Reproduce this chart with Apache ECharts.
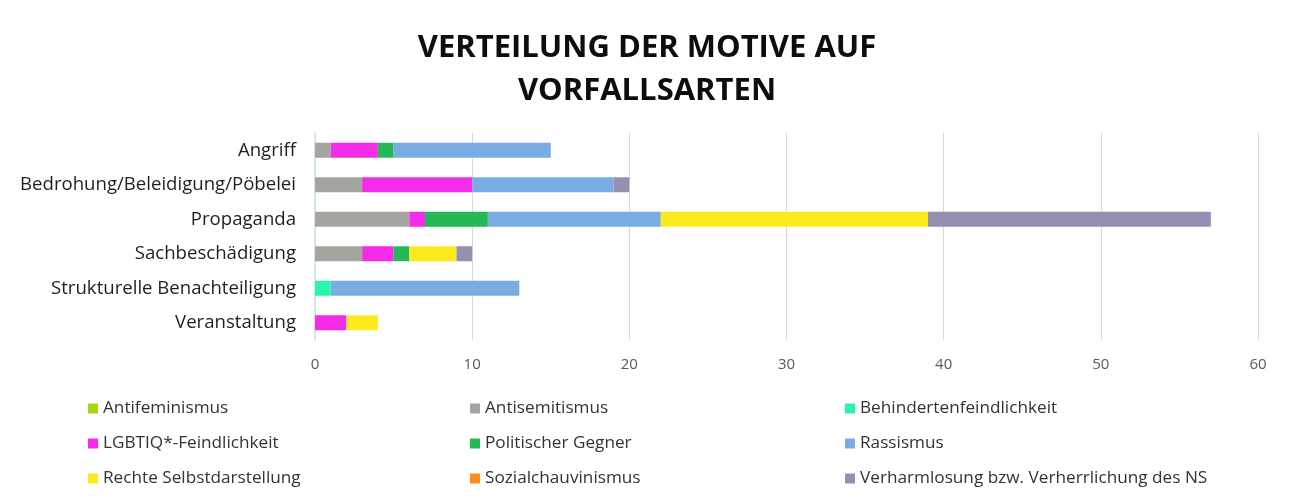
<!DOCTYPE html>
<html>
<head>
<meta charset="utf-8">
<script src="https://cdn.jsdelivr.net/npm/echarts@6/dist/echarts.min.js"></script>
<style>
  html, body { margin: 0; padding: 0; background: #fff; }
  #chart { width: 1294px; height: 502px; }
</style>
</head>
<body>
<div id="chart"></div>
<script>
const categories = ['Angriff', 'Bedrohung/Beleidigung/Pöbelei', 'Propaganda', 'Sachbeschädigung', 'Strukturelle Benachteiligung', 'Veranstaltung'];
const seriesNames = ['Antifeminismus', 'Antisemitismus', 'Behindertenfeindlichkeit', 'LGBTIQ*-Feindlichkeit', 'Politischer Gegner', 'Rassismus', 'Rechte Selbstdarstellung', 'Sozialchauvinismus', 'Verharmlosung bzw. Verherrlichung des NS'];
const antifeminismus     = [0, 0, 0, 0, 0, 0];
const antisemitismus     = [1, 3, 6, 3, 0, 0];
const behinderten        = [0, 0, 0, 0, 1, 0];
const lgbtiq             = [3, 7, 1, 2, 0, 2];
const politischerGegner  = [1, 0, 4, 1, 0, 0];
const rassismus          = [10, 9, 11, 0, 12, 0];
const rechteSelbst       = [0, 0, 17, 3, 0, 2];
const sozialchauvinismus = [0, 0, 0, 0, 0, 0];
const verharmlosung      = [0, 1, 18, 1, 0, 0];
const xTicks = [0, 10, 20, 30, 40, 50, 60];

const seriesValues = [antifeminismus, antisemitismus, behinderten, lgbtiq, politischerGegner, rassismus, rechteSelbst, sozialchauvinismus, verharmlosung];
const colors = ['#a3d80d', '#a5a5a0', '#2af5b0', '#f52bea', '#26b856', '#79ace3', '#fcea1c', '#ff8c1a', '#958fb3'];

const font = 'Open Sans';
// legend layout: 3 columns x 3 rows
const colX = [88, 470, 845];
const rowY = [400, 435, 470];
const legends = seriesNames.map((n, i) => ({
  data: [n],
  left: colX[i % 3],
  top: rowY[Math.floor(i / 3)],
  padding: 0,
  icon: 'rect',
  itemWidth: 10,
  itemHeight: 10,
  itemGap: 4,
  selectedMode: false,
  textStyle: { fontFamily: font, fontSize: 17.2, color: '#333333', padding: [0, 0, 0, 0] }
}));

const chart = echarts.init(document.getElementById('chart'), null, { renderer: 'canvas' });
chart.setOption({
  animation: false,
  backgroundColor: '#fff',
  title: {
    text: 'VERTEILUNG DER MOTIVE AUF\nVORFALLSARTEN',
    left: 'center',
    top: 22,
    textStyle: { fontFamily: font, fontWeight: 'bold', fontSize: 31, lineHeight: 43, color: '#0d0d0d' }
  },
  legend: legends,
  grid: { left: 315, right: 36, top: 133, bottom: 162 },
  xAxis: {
    type: 'value',
    min: 0, max: 60, interval: 10,
    axisLine: { show: false },
    axisTick: { show: false },
    splitLine: { lineStyle: { color: '#d9d9d9', width: 1 } },
    axisLabel: { fontFamily: font, fontSize: 15, color: '#595959', margin: 17,
      formatter: v => xTicks.includes(v) ? String(v) : '' }
  },
  yAxis: {
    type: 'category',
    data: categories,
    inverse: true,
    axisLine: { lineStyle: { color: '#c5e8df', width: 1.5 } },
    axisTick: { show: false },
    axisLabel: { fontFamily: font, fontSize: 18.6, color: '#1f1f1f', margin: 19 }
  },
  series: seriesNames.map((n, i) => ({
    name: n,
    type: 'bar',
    stack: 'total',
    barWidth: 15,
    itemStyle: { color: colors[i] },
    data: seriesValues[i]
  }))
});
</script>
</body>
</html>
